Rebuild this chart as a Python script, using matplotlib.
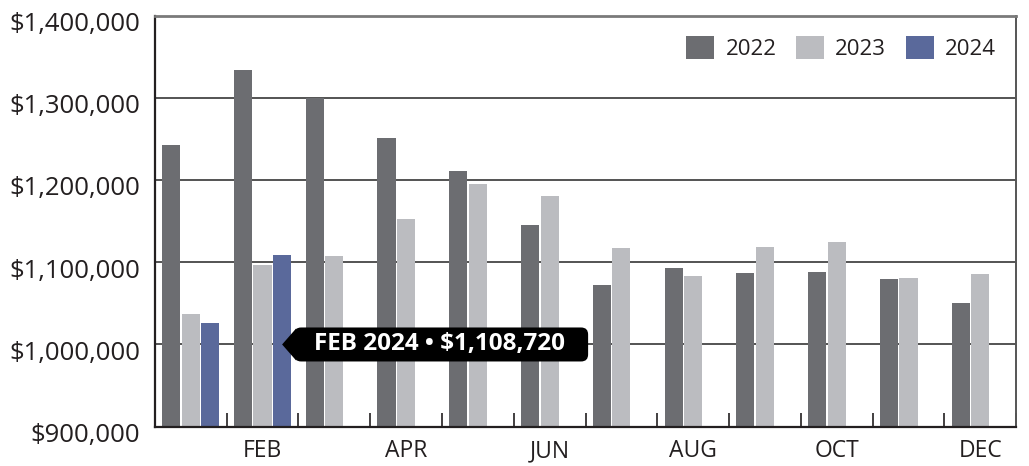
import matplotlib
matplotlib.use("Agg")
import matplotlib.pyplot as plt
import numpy as np
from matplotlib.patches import FancyBboxPatch, Polygon
from matplotlib.ticker import FixedLocator
from matplotlib.transforms import Affine2D, offset_copy

plt.rcParams["font.family"] = ["Open Sans", "DejaVu Sans"]

# monthly revenue
months = ["JAN", "FEB", "MAR", "APR", "MAY", "JUN",
          "JUL", "AUG", "SEP", "OCT", "NOV", "DEC"]
rev_2022 = [1242700, 1333900, 1299500, 1251200, 1211100, 1145400,
            1072400, 1093100, 1087000, 1088200, 1079700, 1050500]
rev_2023 = [1037100, 1096700, 1107700, 1152700, 1195300, 1180700,
            1117400, 1083300, 1118600, 1124700, 1080900, 1085800]
rev_2024 = [1026100, 1108720]
years = ["2022", "2023", "2024"]
colors = ["#6c6d71", "#bbbcc0", "#5a699b"]
yticks = [900000, 1000000, 1100000, 1200000, 1300000, 1400000]

TXT = "#231f20"

fig = plt.figure(figsize=(10.29, 4.66), dpi=100)
ax = fig.add_axes([0.1506, 0.0843, 0.8368, 0.8824])

x = np.arange(len(months))
bw, step = 0.254, 0.272
series = [rev_2022, rev_2023, rev_2024]
for i, (vals, yr, col) in enumerate(zip(series, years, colors)):
    xs = x[:len(vals)] + (i - 1) * step
    ax.bar(xs, vals, width=bw, color=col, label=yr, zorder=2)

ax.set_xlim(-0.5, len(months) - 0.5)
ax.set_ylim(yticks[0], yticks[-1])
ax.set_yticks(yticks)
ax.set_yticklabels([])
ax.grid(axis="y", color="#454545", linewidth=1.3, zorder=0)
ax.set_axisbelow(True)

# y labels sit a little below their gridline in the original
ylab_tr = offset_copy(ax.get_yaxis_transform(), fig=fig, x=-15, y=-6, units="dots")
for v in yticks:
    ax.text(0, v, f"${v:,.0f}", transform=ylab_tr, ha="right", va="center_baseline",
            fontsize=18.5, color=TXT, clip_on=False)

# labels on every other month, small ticks on month boundaries
ax.set_xticks(x[1::2])
ax.set_xticklabels(months[1::2])
ax.xaxis.set_minor_locator(FixedLocator(np.arange(len(months)) + 0.5))
ax.tick_params(axis="x", which="major", length=0, pad=9, labelsize=16.5, labelcolor=TXT)
ax.tick_params(axis="x", which="minor", direction="in", length=10, width=1.2, color=TXT)
ax.tick_params(axis="y", length=0)

for side in ("left", "bottom"):
    ax.spines[side].set_color(TXT)
    ax.spines[side].set_linewidth(1.6)
ax.spines["top"].set_color("#7a7a7a")
ax.spines["top"].set_linewidth(2)
ax.spines["right"].set_color("#555555")
ax.spines["right"].set_linewidth(1.4)

leg = ax.legend(loc="upper right", bbox_to_anchor=(1.0, 1.0), ncol=3, frameon=False,
                fontsize=16, handlelength=1.25, handleheight=1.25, handletextpad=0.5,
                columnspacing=0.9, borderaxespad=0.5, labelcolor=TXT)

# hover tooltip on FEB 2024
tip_x = x[1] + step
tip_y = 1000000
fig.canvas.draw()
px, py = ax.transData.transform((tip_x, tip_y))
t = Affine2D().translate(px, py)
ax.add_patch(FancyBboxPatch((12, -17), 294, 34, boxstyle="round,pad=0,rounding_size=7",
                            transform=t, facecolor="black", edgecolor="none",
                            clip_on=False, zorder=5))
ax.add_patch(Polygon([(0, 0), (14, 16), (14, -16)], closed=True, transform=t,
                     facecolor="black", edgecolor="none", clip_on=False, zorder=5))
ax.text(157, 0, f"FEB 2024 \u2022 ${rev_2024[1]:,}", transform=t, color="white",
        fontsize=17.5, fontweight="bold", ha="center", va="center", zorder=6)

fig.savefig("out.png", dpi=100)
